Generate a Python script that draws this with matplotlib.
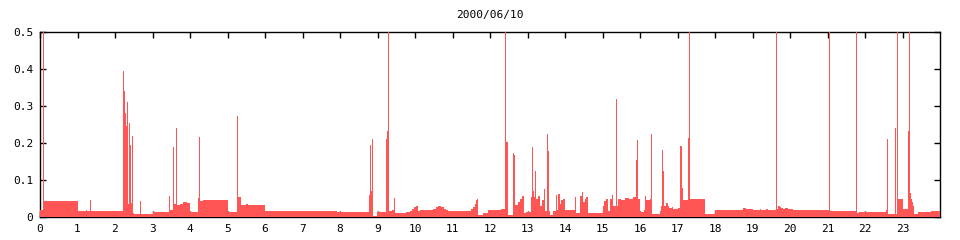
import numpy as np
import matplotlib
matplotlib.use("Agg")
import matplotlib.pyplot as plt

# Titolo e assi
title = "2000/06/10"
x_ticks = list(range(24))
y_ticks = [0, 0.1, 0.2, 0.3, 0.4, 0.5]
y_labels = ["0", "0.1", "0.2", "0.3", "0.4", "0.5"]

# Livello di base a gradini: (ora d'inizio, valore)
base_t = [0.0, 0.115, 1.0, 2.212, 2.505, 3.01, 3.45, 3.535, 3.642, 3.73, 3.8, 3.91,
          4.01, 4.21, 4.35, 5.02, 5.27, 5.35, 5.49, 5.54, 6.01, 7.93,
          8.77, 8.86, 8.98, 9.30, 9.38, 9.46, 9.75, 9.86, 9.92, 9.97, 10.02, 10.08,
          10.13, 10.22, 10.48, 10.55, 10.62, 10.70, 10.76, 10.82, 10.88, 11.19,
          11.5, 11.55, 11.59, 11.62, 11.64, 11.68, 11.81, 11.95, 12.3, 12.39,
          12.47, 12.6, 12.66, 12.75, 12.80, 12.84, 12.9, 12.97, 13.08,
          13.22, 13.28, 13.33, 13.38, 13.43, 13.47, 13.52, 13.59, 13.68, 13.75,
          13.79, 13.81, 13.86, 13.9, 13.95, 14.0, 14.27, 14.3, 14.39, 14.48, 14.53,
          14.57, 14.62, 15.01, 15.05, 15.09, 15.12, 15.19, 15.24, 15.28, 15.37,
          15.41, 15.5, 15.6, 15.7, 15.8, 15.9,
          15.99, 16.1, 16.15, 16.26, 16.31, 16.52, 16.57, 16.64, 16.69, 16.75,
          16.78, 16.84, 16.88, 17.01, 17.06, 17.15, 17.33, 17.74, 17.99, 18.74,
          18.83, 19.01, 19.19, 19.23, 19.37, 19.41, 19.64, 19.68, 19.72, 19.77,
          19.81, 19.86, 19.94, 20.08, 20.26, 20.79, 21.08, 21.77, 21.85, 21.99,
          22.01, 22.57, 22.62, 22.85, 22.88, 23.01, 23.2, 23.23, 23.26, 23.28,
          23.31, 23.42, 23.76, 23.79]
base_v = [0.019, 0.044, 0.016, 0.012, 0.008, 0.014, 0.019, 0.035, 0.033, 0.036, 0.041, 0.037,
          0.014, 0.044, 0.047, 0.014, 0.055, 0.033, 0.036, 0.033, 0.016, 0.014,
          0.014, 0.003, 0.014, 0.017, 0.02, 0.011, 0.013, 0.016, 0.021, 0.027, 0.03, 0.016,
          0.02, 0.019, 0.022, 0.026, 0.031, 0.027, 0.022, 0.018, 0.015, 0.017,
          0.021, 0.026, 0.035, 0.045, 0.05, 0.006, 0.01, 0.019, 0.021, 0.021,
          0.005, 0.005, 0.033, 0.04, 0.05, 0.057, 0.01, 0.013, 0.053,
          0.05, 0.058, 0.03, 0.045, 0.075, 0.015, 0.015, 0.005, 0.015, 0.05,
          0.02, 0.063, 0.035, 0.045, 0.05, 0.018, 0.055, 0.01, 0.058, 0.04, 0.05,
          0.055, 0.012, 0.03, 0.042, 0.05, 0.015, 0.05, 0.028, 0.03, 0.03,
          0.05, 0.046, 0.052, 0.048, 0.053, 0.05,
          0.013, 0.02, 0.045, 0.05, 0.008, 0.015, 0.03, 0.03, 0.038, 0.03,
          0.025, 0.028, 0.021, 0.025, 0.054, 0.047, 0.049, 0.008, 0.019, 0.023,
          0.021, 0.019, 0.022, 0.019, 0.022, 0.019, 0.022, 0.03, 0.027, 0.025,
          0.022, 0.024, 0.021, 0.02, 0.019, 0.02, 0.016, 0.011, 0.013, 0.016,
          0.014, 0.018, 0.008, 0.005, 0.05, 0.021, 0.064, 0.05, 0.04, 0.03,
          0.008, 0.013, 0.017, 0.016]

# Picchi larghi un campione: (ora, valore)
spike_t = [0.089, 1.23, 1.33, 2.212, 2.239, 2.265, 2.292, 2.319, 2.345, 2.372, 2.399,
           2.425, 2.452, 2.479, 2.665, 3.45, 3.535, 3.615, 4.21, 4.237, 5.24,
           8.77, 8.797, 8.824, 8.85, 9.22, 9.248, 9.275, 9.44, 12.39, 12.42, 12.447,
           12.6, 12.627, 13.11, 13.137, 13.19, 13.43, 13.52, 13.547, 13.75, 14.27,
           14.45, 15.12, 15.24, 15.37, 15.9, 15.93, 16.12, 16.28, 16.59, 16.617,
           17.08, 17.11, 17.28, 17.303, 19.62, 21.05, 21.75, 22.59, 22.8, 22.85,
           23.14, 23.17]
spike_v = [0.5, 0.019, 0.047, 0.395, 0.34, 0.28, 0.245, 0.31, 0.035, 0.255, 0.195,
           0.037, 0.22, 0.012, 0.044, 0.057, 0.19, 0.24, 0.051, 0.217, 0.274,
           0.059, 0.195, 0.07, 0.21, 0.21, 0.232, 0.5, 0.051, 0.5, 0.203, 0.203,
           0.173, 0.168, 0.19, 0.07, 0.124, 0.076, 0.224, 0.178, 0.06, 0.055,
           0.068, 0.05, 0.06, 0.319, 0.154, 0.208, 0.057, 0.224, 0.18, 0.124,
           0.192, 0.078, 0.214, 0.5, 0.5, 0.5, 0.5, 0.21, 0.24, 0.5,
           0.232, 0.5]

RED = "#ff5555"
W = 1 / 37.52  # un pixel di larghezza

fig = plt.figure(figsize=(9.6, 2.4), dpi=100)
ax = fig.add_axes([40 / 960, 23 / 240, 900 / 960, 185 / 240])

t = np.array(base_t + [24.0])
v = np.array(base_v + [base_v[-1]])
ax.fill_between(t, 0, v, step="post", color=RED, linewidth=0, zorder=3,
                antialiased=False)
ax.bar(spike_t, spike_v, width=W * 1.05, align="edge", color=RED,
       linewidth=0, zorder=3, antialiased=False)

ax.set_xlim(0, 24)
ax.set_ylim(0, 0.5)
ax.set_xticks(x_ticks)
ax.set_xticklabels([str(x) for x in x_ticks])
ax.set_yticks(y_ticks)
ax.set_yticklabels(y_labels)

for side in ax.spines.values():
    side.set_linewidth(1.0)
    side.set_color("black")

font = {"family": "DejaVu Sans Mono", "size": 8}
ax.tick_params(direction="in", length=4, width=1, top=True, right=True,
               labelsize=8, pad=5)
for lab in ax.get_xticklabels() + ax.get_yticklabels():
    lab.set_fontfamily("DejaVu Sans Mono")

fig.text(490 / 960, 1 - 15 / 240, title, ha="center", va="center", **font)

fig.savefig("out.png", dpi=100)
